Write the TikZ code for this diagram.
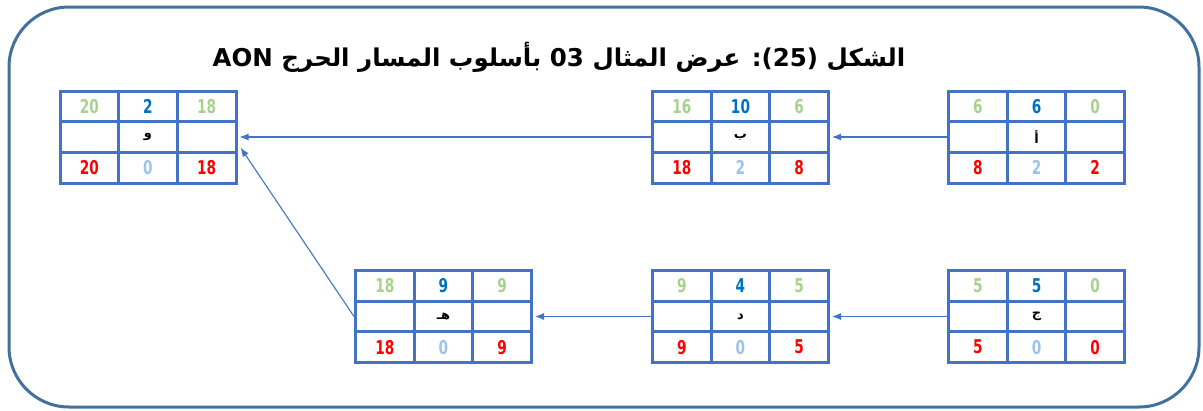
\documentclass[tikz,border=0pt]{standalone}
\usepackage{fontspec}
\usetikzlibrary{arrows.meta,calc}
\TeXXeTstate=1
\newfontfamily\arabicfont[Script=Arabic]{DejaVu Sans}
\newfontfamily\numfont[FakeStretch=0.8]{DejaVu Sans Condensed}
\definecolor{frameblue}{HTML}{41719C}
\definecolor{gridblue}{HTML}{4472C4}
\definecolor{esgreen}{HTML}{A9D18E}
\definecolor{durblue}{HTML}{0070C0}
\definecolor{lfred}{HTML}{FF0000}
\definecolor{slackblue}{HTML}{9DC3E6}

\tikzset{
  frame/.style={draw=frameblue, line width=3pt, rounded corners=60pt},
  actbox/.style={draw=gridblue, line width=3pt, minimum width=176pt,
    minimum height=92pt, inner sep=0pt},
  cellline/.style={draw=gridblue, line width=3pt},
  numtxt/.style={font=\numfont\bfseries\fontsize{19}{19}\selectfont, inner sep=0pt},
  es/.style={numtxt, text=esgreen},
  dur/.style={numtxt, text=durblue},
  lf/.style={numtxt, text=lfred},
  slack/.style={numtxt, text=slackblue},
  lettertxt/.style={font=\arabicfont\bfseries\fontsize{13}{13}\selectfont, inner sep=0pt},
  titletxt/.style={font=\arabicfont\bfseries\fontsize{24.5}{28}\selectfont, inner sep=0pt},
  link/.style={draw=gridblue, line width=1.1pt,
    -{Latex[length=9pt,width=7pt]}, shorten >=2pt}
}

% one activity box: name, centre, letter, top row (3), bottom row (3)
\newcommand{\actnode}[9]{%
  \node[actbox] (#1) at #2 {};
  \draw[cellline] ($(#1.north)+(-29.3,0)$) -- ($(#1.south)+(-29.3,0)$);
  \draw[cellline] ($(#1.north)+(29.3,0)$) -- ($(#1.south)+(29.3,0)$);
  \draw[cellline] ($(#1.west)+(0,-15.3)$) -- ($(#1.east)+(0,-15.3)$);
  \draw[cellline] ($(#1.west)+(0,15.3)$) -- ($(#1.east)+(0,15.3)$);
  \node[es]    (#1-tl) at ($(#1.center)+(-58.7,-30.6)$) {#4};
  \node[dur]   (#1-tm) at ($(#1.center)+(0,-30.6)$) {#5};
  \node[es]    (#1-tr) at ($(#1.center)+(58.7,-30.6)$) {#6};
  \node[lettertxt] (#1-name) at (#1.center) {#3};
  \node[lf]    (#1-bl) at ($(#1.center)+(-58.7,30.6)$) {#7};
  \node[slack] (#1-bm) at ($(#1.center)+(0,30.6)$) {#8};
  \node[lf]    (#1-br) at ($(#1.center)+(58.7,30.6)$) {#9};
}

\begin{document}
\begin{tikzpicture}[x=1pt, y=-1pt]
\useasboundingbox (0,0) rectangle (1203,410);
\draw[frame] (9,7) rectangle (1199,407);

\node[titletxt] (title) at (559,57)
  {\beginR الشكل (25): عرض المثال 03 بأسلوب المسار الحرج \beginL AON\endL\endR};

\actnode{F}{(148,137)}{\beginR و\endR}{20}{2}{18}{20}{0}{18}
\actnode{B}{(740.5,137)}{\beginR ب\endR}{16}{10}{6}{18}{2}{8}
\actnode{A}{(1036.5,137)}{\beginR أ\endR}{6}{6}{0}{8}{2}{2}
\actnode{E}{(443.5,316.5)}{\beginR هـ\endR}{18}{9}{9}{18}{0}{9}
\actnode{D}{(740.5,316.5)}{\beginR د\endR}{9}{4}{5}{9}{0}{5}
\actnode{C}{(1036.5,316.5)}{\beginR ج\endR}{5}{5}{0}{5}{0}{0}

\draw[link] (A.west) -- (B.east);
\draw[link] (B.west) -- (F.east);
\draw[link] (C.west) -- (D.east);
\draw[link] (D.west) -- (E.east);
\draw[link] (E.west) -- ($(F.east)+(2,9)$);
\end{tikzpicture}
\end{document}
